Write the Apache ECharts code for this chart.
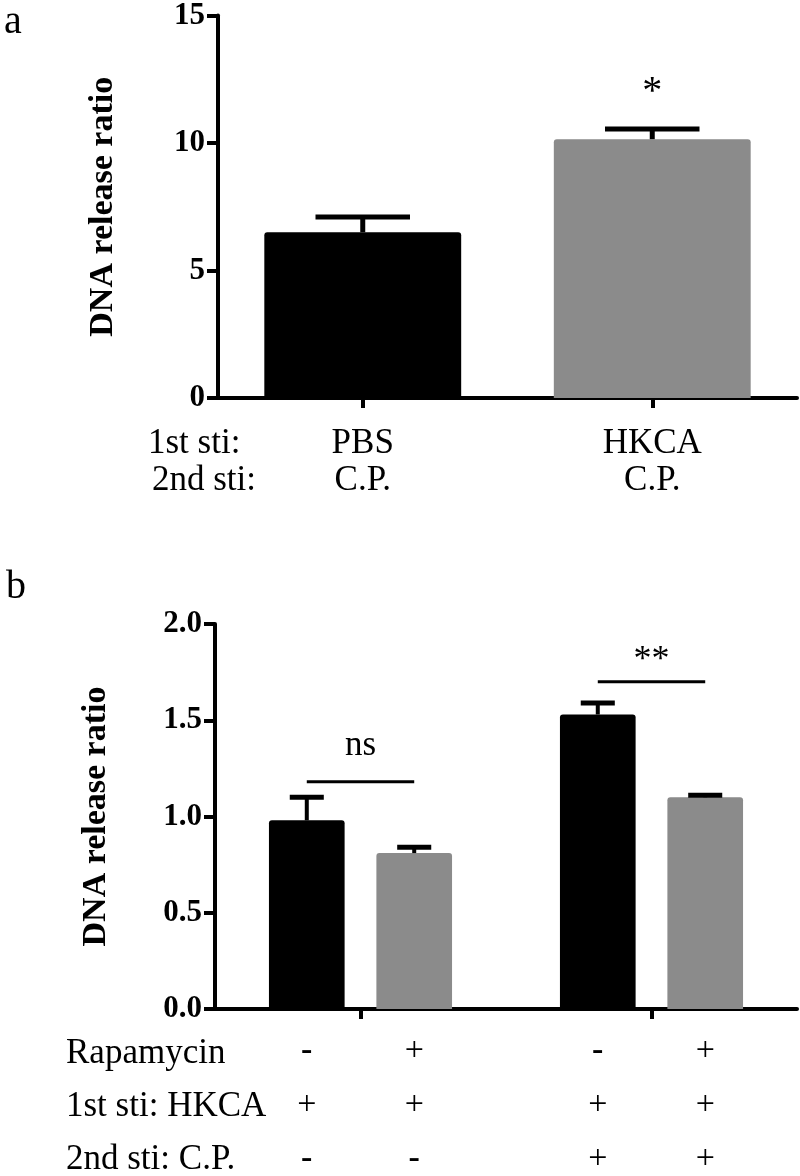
<!DOCTYPE html>
<html><head><meta charset="utf-8">
<script src="https://cdn.jsdelivr.net/npm/echarts@6/dist/echarts.min.js"></script>
<style>html,body{margin:0;padding:0;background:#fff}#c{width:800px;height:1176px}</style>
</head><body><div id="c"></div>
<script>
// ---------- Panel a data ----------
const aFirstStim = ['PBS', 'HKCA'];
const aSecondStim = ['C.P.', 'C.P.'];
const aMeans = [6.5, 10.15];
const aErrors = [0.6, 0.4];
const aSignif = ['', '*'];
const aYTicks = [0, 5, 10, 15];
const aRowLabels = ['1st sti:', '2nd sti:'];
// ---------- Panel b data ----------
const bGroups = ['C.P. -', 'C.P. +'];
const bNoRapaMeans = [0.98, 1.53];
const bNoRapaErrors = [0.12, 0.06];
const bRapaMeans = [0.81, 1.10];
const bRapaErrors = [0.03, 0.01];
const bSigLevels = [1.18, 1.70];
const bSigLabels = ['ns', '**'];
const bYTicks = [0, 0.5, 1.0, 1.5, 2.0];
const bRapamycin = ['-', '+', '-', '+'];
const bFirstHKCA = ['+', '+', '+', '+'];
const bSecondCP = ['-', '-', '+', '+'];
const bRowLabels = ['Rapamycin', '1st sti: HKCA', '2nd sti: C.P.'];

// ---------- styles ----------
const SERIF = "'Liberation Serif','Times New Roman',Times,serif";
const BLACK = '#000000';
const GRAY = '#8b8b8b';
const barWA = 0.68, capA = 0.48;
const barWB = 0.26, gapB = 0.42, capB = 0.45;

const chart = echarts.init(document.getElementById('c'), null, {renderer: 'canvas'});

function errA(params, api) {
  const i = api.value(0), m = api.value(1), e = api.value(2);
  const base = api.coord([i, m]), top = api.coord([i, m + e]);
  const bw = api.size([1, 0], [i, m])[0] * barWA;
  const cw = bw * capA;
  const children = [
    {type: 'line', shape: {x1: base[0], y1: base[1], x2: top[0], y2: top[1]}, style: {stroke: BLACK, lineWidth: 5}},
    {type: 'line', shape: {x1: top[0] - cw / 2, y1: top[1], x2: top[0] + cw / 2, y2: top[1]}, style: {stroke: BLACK, lineWidth: 5}}
  ];
  const t = aSignif[params.dataIndex];
  if (t) {
    children.push({type: 'text', x: top[0], y: top[1] - 36,
      style: {text: t, fill: BLACK, font: '40px ' + SERIF, align: 'center', verticalAlign: 'middle'}});
  }
  return {type: 'group', children};
}

function makeErrB(sIdx) {
  return function (params, api) {
    const g = api.value(0), m = api.value(1), e = api.value(2);
    const bw = api.size([1, 0], [g, m])[0];
    const w = bw * barWB, gp = w * gapB;
    const off = (sIdx - 0.5) * (w + gp);
    const base = api.coord([g, m]), top = api.coord([g, m + e]);
    const x = base[0] + off;
    const cw = w * capB;
    return {type: 'group', children: [
      {type: 'line', shape: {x1: x, y1: base[1], x2: x, y2: top[1]}, style: {stroke: BLACK, lineWidth: 4}},
      {type: 'line', shape: {x1: x - cw / 2, y1: top[1], x2: x + cw / 2, y2: top[1]}, style: {stroke: BLACK, lineWidth: 5}}
    ]};
  };
}

function sigB(params, api) {
  const g = api.value(0), lv = api.value(1);
  const txt = bSigLabels[params.dataIndex];
  const bw = api.size([1, 0], [g, lv])[0];
  const w = bw * barWB, gp = w * gapB;
  const c = api.coord([g, lv]);
  const half = (w + gp) / 2;
  const lift = /^\*+$/.test(txt) ? 21 : 36; // asterisk glyphs sit high in the em box
  return {type: 'group', children: [
    {type: 'line', shape: {x1: c[0] - half, y1: c[1], x2: c[0] + half, y2: c[1]}, style: {stroke: BLACK, lineWidth: 3}},
    {type: 'text', x: c[0], y: c[1] - lift,
      style: {text: txt, fill: BLACK, font: (txt === 'ns' ? '35px ' : '36px ') + SERIF, align: 'center', verticalAlign: 'middle'}}
  ]};
}

function rowLabel(sIdx) {
  return function (p) {
    const col = p.dataIndex * 2 + sIdx;
    const f = s => (s === '-' ? '{m|-}' : '{p|+}');
    return [f(bRapamycin[col]), f(bFirstHKCA[col]), f(bSecondCP[col])].join('\n');
  };
}

const barLabelB = (sIdx) => ({
  show: true, position: 'bottom', distance: 15,
  formatter: rowLabel(sIdx),
  rich: {
    m: {fontFamily: SERIF, fontSize: 34, fontWeight: 'bold', color: BLACK, lineHeight: 54},
    p: {fontFamily: SERIF, fontSize: 34, color: BLACK, lineHeight: 54}
  }
});

const yAxisCommon = {
  type: 'value',
  axisLine: {show: true, lineStyle: {color: BLACK, width: 4}},
  axisTick: {show: true, length: 11, lineStyle: {color: BLACK, width: 4}},
  splitLine: {show: false},
  axisLabel: {color: BLACK, fontFamily: SERIF, fontSize: 31, fontWeight: 'bold', margin: 13},
  name: 'DNA release ratio', nameLocation: 'middle',
  nameTextStyle: {color: BLACK, fontFamily: SERIF, fontSize: 34, fontWeight: 'bold'}
};

const option = {
  animation: false,
  backgroundColor: '#ffffff',
  grid: [
    {left: 218, right: 3, top: 12, height: 386, containLabel: false},
    {left: 215, right: 3, top: 624, height: 385, containLabel: false}
  ],
  xAxis: [
    {
      type: 'category', gridIndex: 0,
      data: aFirstStim.map((s, i) => s + '\n' + aSecondStim[i]),
      axisLine: {show: true, lineStyle: {color: BLACK, width: 4}},
      axisTick: {show: true, alignWithLabel: true, length: 10, lineStyle: {color: BLACK, width: 4}},
      axisLabel: {color: BLACK, fontFamily: SERIF, fontSize: 35, lineHeight: 37, margin: 27, interval: 0}
    },
    {
      type: 'category', gridIndex: 1, data: bGroups,
      axisLine: {show: true, lineStyle: {color: BLACK, width: 4}},
      axisTick: {show: true, alignWithLabel: true, length: 10, lineStyle: {color: BLACK, width: 4}},
      axisLabel: {show: false}
    }
  ],
  yAxis: [
    Object.assign({}, yAxisCommon, {
      gridIndex: 0, min: aYTicks[0], max: aYTicks[aYTicks.length - 1], interval: aYTicks[1] - aYTicks[0],
      nameGap: 98
    }),
    Object.assign({}, yAxisCommon, {
      gridIndex: 1, min: bYTicks[0], max: bYTicks[bYTicks.length - 1], interval: bYTicks[1] - bYTicks[0],
      nameGap: 102,
      axisLabel: Object.assign({}, yAxisCommon.axisLabel, {formatter: v => v.toFixed(1)})
    })
  ],
  series: [
    {
      type: 'bar', xAxisIndex: 0, yAxisIndex: 0, barWidth: (barWA * 100) + '%',
      data: aMeans.map((v, i) => ({value: v, itemStyle: {color: i === 0 ? BLACK : GRAY, borderRadius: [3, 3, 0, 0]}}))
    },
    {
      type: 'custom', xAxisIndex: 0, yAxisIndex: 0, renderItem: errA, z: 3,
      data: aMeans.map((v, i) => [i, v, aErrors[i]])
    },
    {
      type: 'bar', xAxisIndex: 1, yAxisIndex: 1, barWidth: (barWB * 100) + '%', barGap: (gapB * 100) + '%',
      itemStyle: {color: BLACK, borderRadius: [3, 3, 0, 0]},
      data: bNoRapaMeans, label: barLabelB(0)
    },
    {
      type: 'bar', xAxisIndex: 1, yAxisIndex: 1, barWidth: (barWB * 100) + '%', barGap: (gapB * 100) + '%',
      itemStyle: {color: GRAY, borderRadius: [3, 3, 0, 0]},
      data: bRapaMeans, label: barLabelB(1)
    },
    {
      type: 'custom', xAxisIndex: 1, yAxisIndex: 1, renderItem: makeErrB(0), z: 3,
      data: bNoRapaMeans.map((v, i) => [i, v, bNoRapaErrors[i]])
    },
    {
      type: 'custom', xAxisIndex: 1, yAxisIndex: 1, renderItem: makeErrB(1), z: 3,
      data: bRapaMeans.map((v, i) => [i, v, bRapaErrors[i]])
    },
    {
      type: 'custom', xAxisIndex: 1, yAxisIndex: 1, renderItem: sigB, z: 3,
      data: bSigLevels.map((v, i) => [i, v])
    }
  ],
  graphic: [
    {type: 'text', left: 4, top: 2, style: {text: 'a', font: '40px ' + SERIF, fill: BLACK}},
    {type: 'text', left: 6, top: 567, style: {text: 'b', font: '40px ' + SERIF, fill: BLACK}},
    {type: 'text', x: 148, y: 444, style: {text: aRowLabels[0], font: '35px ' + SERIF, fill: BLACK, verticalAlign: 'middle'}},
    {type: 'text', x: 152, y: 481, style: {text: aRowLabels[1], font: '35px ' + SERIF, fill: BLACK, verticalAlign: 'middle'}},
    {type: 'text', x: 66, y: 1054, style: {text: bRowLabels[0], font: '35px ' + SERIF, fill: BLACK, verticalAlign: 'middle'}},
    {type: 'text', x: 66, y: 1107, style: {text: bRowLabels[1], font: '35px ' + SERIF, fill: BLACK, verticalAlign: 'middle'}},
    {type: 'text', x: 66, y: 1160, style: {text: bRowLabels[2], font: '35px ' + SERIF, fill: BLACK, verticalAlign: 'middle'}}
  ]
};
chart.setOption(option);
</script>
</body></html>
